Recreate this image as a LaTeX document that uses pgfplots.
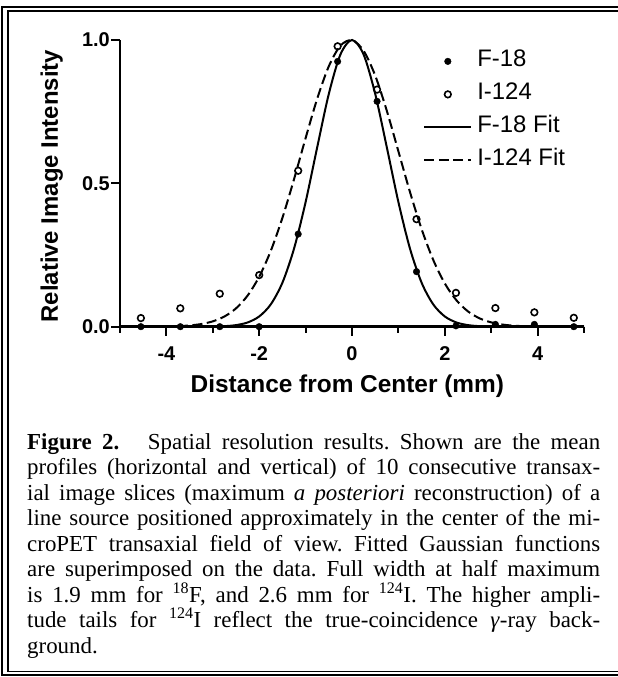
\documentclass[border=0pt]{standalone}
\usepackage{fontspec}
\setmainfont{Liberation Serif}
\newfontfamily\arial{Liberation Sans}
\usepackage{pgfplots}
\usepackage{pgfplotstable}
\pgfplotsset{compat=1.18}

\newcommand{\tickfont}{\arial\bfseries\fontsize{20}{22}\selectfont}
\pgfplotsset{
  markleg/.style={legend image code/.code={\path[draw=none] (0bp,0bp) -- (47bp,0bp); \draw[##1] plot coordinates {(23.5bp,0bp)};}},
  lineleg/.style={legend image code/.code={\draw[##1] (0bp,0bp) -- (47bp,0bp);}},
}

% measured data (mm, relative intensity)
\pgfplotstableread{
x      y
-4.55  0.000
-3.70  0.000
-2.85  0.000
-2.00  0.000
-1.16  0.323
-0.31  0.925
 0.54  0.786
 1.39  0.192
 2.24  0.003
 3.09  0.008
 3.93  0.008
 4.78  0.000
}\fdata
\pgfplotstableread{
x      y
-4.55  0.030
-3.70  0.064
-2.85  0.115
-2.00  0.180
-1.16  0.544
-0.31  0.978
 0.54  0.827
 1.39  0.375
 2.24  0.118
 3.09  0.065
 3.93  0.050
 4.78  0.031
}\idata

\newcommand{\capline}[2]{\node[anchor=base west, inner sep=0pt] at (27,#1) {\makebox[573bp][s]{#2}};}

\begin{document}
\begin{tikzpicture}[x=1bp,y=1bp]
\useasboundingbox (0,0) rectangle (618,677);

% double frame (right side cut off in the original)
\draw[line width=2.4bp] (618,670) -- (2.2,670) -- (2.2,2) -- (618,2);
\draw[line width=1.3bp] (618,666) -- (8,666) -- (8,5.5) -- (618,5.5);

\begin{axis}[
  at={(120bp,350.3bp)}, anchor=south west,
  scale only axis, width=464bp, height=286.7bp,
  xmin=-5, xmax=5, ymin=0, ymax=1,
  axis lines*=left,
  axis line style={line width=2.4bp},
  clip=false,
  tick align=outside,
  major tick length=9bp, minor tick length=6bp,
  every tick/.style={line width=2bp, black},
  xtick={-4,-2,0,2,4}, xticklabels={-4,-2,0,2,4},
  minor xtick={-5,-3,-1,1,3,5},
  ytick={0,0.5,1}, yticklabels={0.0,0.5,1.0},
  every tick label/.append style={font=\tickfont, inner sep=0pt},
  xticklabel style={font=\tickfont, anchor=base, yshift=-25bp},
  yticklabel style={font=\tickfont, anchor=east, xshift=-1bp},
  xlabel={Distance from Center (mm)},
  xlabel style={font=\arial\bfseries\fontsize{24.5}{28}\selectfont, at={(axis description cs:0.49,-0.2278)}, anchor=base},
  ylabel={Relative Image Intensity},
  ylabel style={font=\arial\bfseries\fontsize{24}{28}\selectfont, at={(axis description cs:-0.1341,0.49)}, anchor=base},
  legend style={at={(axis description cs:0.6537,0.962)}, anchor=north west,
    draw=none, fill=none, inner sep=0pt, outer sep=0pt, row sep=12bp,
    font=\arial\fontsize{24}{27}\selectfont,
    nodes={inner sep=0pt, text height=16bp, text depth=5bp},
    /tikz/every odd column/.append style={column sep=5bp}},
  legend cell align=left,
]
\addplot[only marks, mark=*, mark size=3.3bp, black, line width=0.4bp, markleg]
  table {\fdata};
\addlegendentry{F-18}
\addplot[only marks, mark=o, mark size=3.3bp, black, line width=1.6bp, markleg]
  table {\idata};
\addlegendentry{I-124}
\addplot[black, line width=2bp, smooth, no marks, lineleg]
  coordinates {(-5,0) (-4,0) (-3.5,0.00004) (-3,0.00055) (-2.75,0.00183) (-2.5,0.00547)
    (-2.25,0.0147) (-2,0.0357) (-1.75,0.0779) (-1.5,0.1534) (-1.25,0.2720) (-1,0.4346)
    (-0.75,0.6258) (-0.5,0.8119) (-0.25,0.9493) (0,1) (0.25,0.9493) (0.5,0.8119)
    (0.75,0.6258) (1,0.4346) (1.25,0.2720) (1.5,0.1534) (1.75,0.0779) (2,0.0357)
    (2.25,0.0147) (2.5,0.00547) (2.75,0.00183) (3,0.00055) (3.5,0.00004) (4,0) (5,0)};
\addlegendentry{F-18 Fit}
\addplot[black, line width=2bp, smooth, no marks, dash pattern=on 10bp off 4.5bp, lineleg]
  coordinates {(-5,0) (-4.5,0.0001) (-4,0.0008) (-3.75,0.00192) (-3.5,0.00433) (-3.25,0.00924)
    (-3,0.01864) (-2.75,0.0355) (-2.5,0.06388) (-2.25,0.10861) (-2,0.17441) (-1.75,0.26472)
    (-1.5,0.3795) (-1.25,0.51402) (-1,0.65776) (-0.75,0.79524) (-0.5,0.9083) (-0.25,0.98015)
    (0,0.99927) (0.25,0.96249) (0.5,0.87586) (0.75,0.75303) (1,0.61162) (1.25,0.46934)
    (1.5,0.34027) (1.75,0.23309) (2,0.15082) (2.25,0.09222) (2.5,0.05325) (2.75,0.02907)
    (3,0.01499) (3.25,0.0073) (3.5,0.00336) (3.75,0.00146) (4,0.0006) (4.5,0.0001) (5,0)};
\addlegendentry{I-124 Fit}
\end{axis}

% caption
\begingroup
\fontsize{23}{25.45}\selectfont\frenchspacing
\capline{227.5}{\textbf{Figure 2.}\hspace{0.8em} Spatial resolution results. Shown are the mean}
\capline{202.05}{profiles (horizontal and vertical) of 10 consecutive transax-}
\capline{176.6}{ial image slices (maximum \textit{a posteriori} reconstruction) of a}
\capline{151.15}{line source positioned approximately in the center of the mi-}
\capline{125.7}{croPET transaxial field of view. Fitted Gaussian functions}
\capline{100.25}{are superimposed on the data. Full width at half maximum}
\capline{74.8}{is 1.9 mm for \textsuperscript{18}F, and 2.6 mm for \textsuperscript{124}I. The higher ampli-}
\capline{49.35}{tude tails for \textsuperscript{124}I reflect the true-coincidence \textit{γ}-ray back-}
\node[anchor=base west, inner sep=0pt] at (27,23.9) {ground.};
\endgroup
\end{tikzpicture}
\end{document}
